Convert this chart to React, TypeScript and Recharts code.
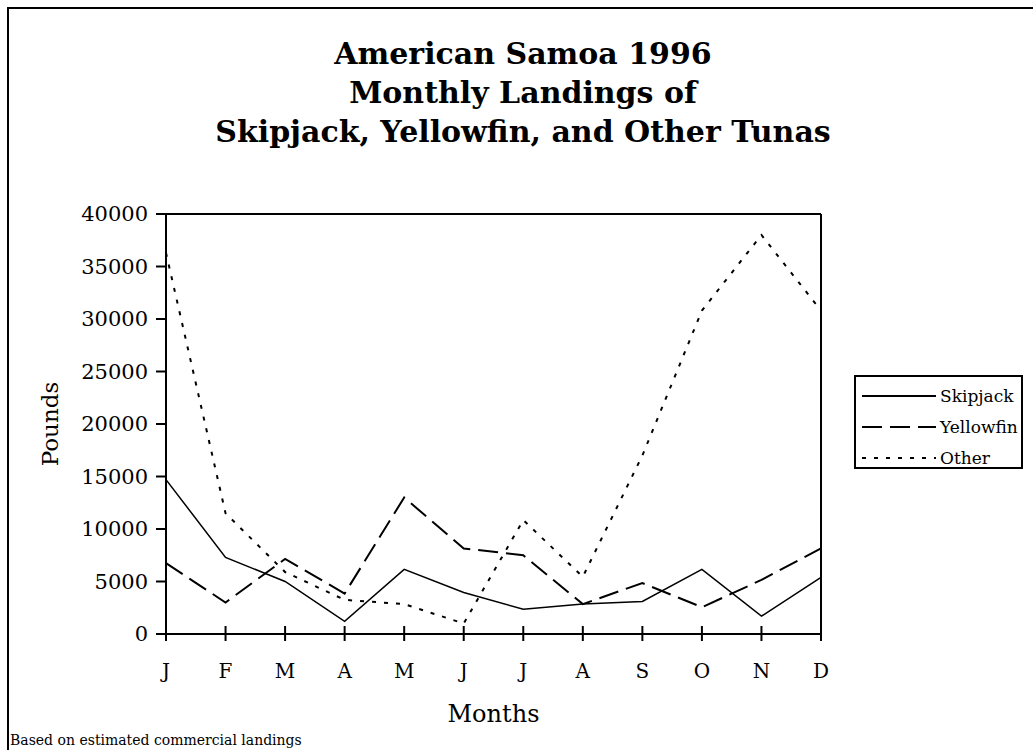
import { LineChart, Line, XAxis, YAxis, ReferenceLine, Legend } from "recharts";

// monthly landings, pounds
const months = ["J", "F", "M", "A", "M", "J", "J", "A", "S", "O", "N", "D"];
const skipjack = [14700, 7300, 5000, 1200, 6150, 3950, 2350, 2850, 3100, 6150, 1700, 5400];
const yellowfin = [6750, 3000, 7150, 3850, 13000, 8150, 7500, 2850, 4850, 2550, 5150, 8150];
const other = [36300, 11500, 5900, 3250, 2850, 1000, 10850, 5450, 17000, 30800, 38000, 30800];
const yTicks = [0, 5000, 10000, 15000, 20000, 25000, 30000, 35000, 40000];

const data = months.map((m, i) => ({
  idx: i,
  month: m,
  skipjack: skipjack[i],
  yellowfin: yellowfin[i],
  other: other[i],
}));

const series = [
  { key: "skipjack", name: "Skipjack", width: 1.5, dash: undefined as string | undefined },
  { key: "yellowfin", name: "Yellowfin", width: 2, dash: "20 8" },
  { key: "other", name: "Other", width: 2, dash: "4 8" },
];

const FONT = "'DejaVu Serif', serif";

function MonthTick(props: any) {
  const { x, y, payload } = props;
  return (
    <g>
      <line x1={x} x2={x} y1={y - 8} y2={y + 7} stroke="#000" strokeWidth={2} />
      <text x={x} y={y + 44} textAnchor="middle" fontFamily={FONT} fontSize={20} fill="#000">
        {months[payload.value]}
      </text>
    </g>
  );
}

function PoundsLabel(props: any) {
  const { viewBox } = props;
  const cx = 58;
  const cy = viewBox.y + viewBox.height / 2;
  return (
    <text
      x={cx}
      y={cy}
      transform={`rotate(-90 ${cx} ${cy})`}
      textAnchor="middle"
      fontFamily={FONT}
      fontSize={23}
      fill="#000"
    >
      Pounds
    </text>
  );
}

function MonthsLabel(props: any) {
  const { viewBox } = props;
  const cx = viewBox.x + viewBox.width / 2;
  return (
    <text x={cx} y={722} textAnchor="middle" fontFamily={FONT} fontSize={24} fill="#000">
      Months
    </text>
  );
}

function LegendBox() {
  return (
    <div
      style={{
        width: 169,
        height: 94,
        boxSizing: "border-box",
        border: "2px solid #000",
        background: "#fff",
        paddingTop: 3,
        fontFamily: FONT,
        fontSize: 17,
        textAlign: "left",
      }}
    >
      {series.map((s) => (
        <div key={s.key} style={{ height: 31, display: "flex", alignItems: "center" }}>
          <svg width={84} height={12} style={{ display: "block" }}>
            <line x1={6} x2={80} y1={6} y2={6} stroke="#000" strokeWidth={2} strokeDasharray={s.dash} />
          </svg>
          <span style={{ lineHeight: "20px" }}>{s.name}</span>
        </div>
      ))}
    </div>
  );
}

export default function App() {
  return (
    <div
      style={{
        position: "absolute",
        left: 0,
        top: 0,
        width: 1033,
        height: 750,
        overflow: "hidden",
        background: "#fff",
      }}
    >
      <div
        style={{
          position: "absolute",
          left: 7,
          top: 7,
          width: 1060,
          height: 780,
          border: "2px solid #000",
        }}
      />
      <svg width={1033} height={750} style={{ position: "absolute", left: 0, top: 0 }}>
        <g fontFamily={FONT} fontWeight="bold" fontSize={30} textAnchor="middle" fill="#000">
          <text x={523} y={64}>American Samoa 1996</text>
          <text x={523} y={103}>Monthly Landings of</text>
          <text x={523} y={142}>Skipjack, Yellowfin, and Other Tunas</text>
        </g>
        <text x={10} y={745} fontFamily={FONT} fontSize={14} fill="#000">
          Based on estimated commercial landings
        </text>
      </svg>
      <div style={{ position: "absolute", left: 0, top: 0 }}>
        <LineChart
          width={1033}
          height={750}
          data={data}
          margin={{ top: 214, right: 212, bottom: 76, left: 76 }}
        >
          <XAxis
            dataKey="idx"
            type="category"
            tickLine={false}
            tickSize={0}
            tickMargin={0}
            axisLine={{ stroke: "#000", strokeWidth: 2 }}
            tick={<MonthTick />}
            height={40}
            interval={0}
            label={<MonthsLabel />}
          />
          <YAxis
            domain={[0, 40000]}
            ticks={yTicks}
            interval={0}
            width={90}
            tickSize={10}
            tickMargin={8}
            axisLine={{ stroke: "#000", strokeWidth: 2 }}
            tickLine={{ stroke: "#000", strokeWidth: 2 }}
            tick={{ fill: "#000", fontSize: 21, fontFamily: FONT }}
            label={<PoundsLabel />}
          />
          <ReferenceLine y={40000} stroke="#000" strokeWidth={2} />
          <ReferenceLine x={11} stroke="#000" strokeWidth={2} />
          <Legend
            layout="horizontal"
            verticalAlign="middle"
            align="center"
            content={<LegendBox />}
            wrapperStyle={{ position: "absolute", left: 854, top: 375, width: 169, height: 94 }}
          />
          {series.map((s) => (
            <Line
              key={s.key}
              dataKey={s.key}
              name={s.name}
              type="linear"
              stroke="#000"
              strokeWidth={s.width}
              strokeDasharray={s.dash}
              dot={false}
              activeDot={false}
              isAnimationActive={false}
            />
          ))}
        </LineChart>
      </div>
    </div>
  );
}
